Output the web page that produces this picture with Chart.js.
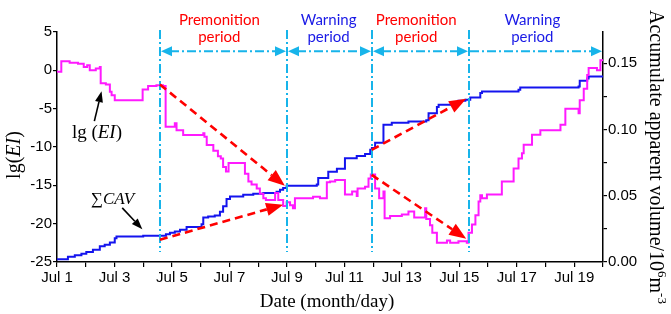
<!DOCTYPE html>
<html><head><meta charset="utf-8">
<script src="https://cdn.jsdelivr.net/npm/chart.js@4.4.0/dist/chart.umd.min.js"></script>
<style>html,body{margin:0;padding:0;background:#fff;}#wrap{width:671px;height:314px;}</style>
</head><body><div id="wrap"><canvas id="c" width="671" height="314"></canvas></div>
<script>
// ---- data (x = day of July) ----
const eiDays = [1.0,1.15,1.44,1.73,1.93,2.05,2.14,2.35,2.49,2.52,2.70,2.84,2.90,3.01,3.98,4.17,4.46,4.69,4.78,5.10,5.16,5.39,6.09,6.13,6.21,6.44,6.60,6.70,6.78,6.88,6.97,7.54,7.66,7.77,7.95,8.06,8.18,8.27,8.59,8.70,8.87,8.99,9.11,9.21,9.28,9.91,10.15,10.39,10.50,10.68,11.02,11.27,11.43,11.46,11.72,11.84,11.92,12.07,12.21,12.36,12.40,12.59,13.0,13.23,13.43,13.81,13.85,13.98,14.06,14.22,14.57,14.68,14.97,15.26,15.32,15.44,15.56,15.67,15.73,15.79,15.96,16.48,16.89,17.06,17.18,17.24,17.53,17.82,18.52,18.69,19.15,19.19,19.33,19.45,19.50,19.79,19.91,20.0];
const eiValues = [-0.2,1.2,1.0,0.85,0.45,0.65,0.0,0.25,0.45,-1.7,-1.85,-2.8,-3.25,-3.9,-2.5,-2.05,-1.95,-2.05,-7.35,-6.9,-7.8,-8.45,-8.2,-8.65,-9.75,-10.5,-11.2,-11.5,-12.6,-13.2,-12.1,-13.5,-14.5,-14.9,-15.4,-16.1,-16.7,-16.9,-16.0,-16.9,-17.7,-17.2,-17.6,-18.0,-16.7,-16.5,-16.7,-14.6,-14.5,-14.3,-16.2,-15.8,-16.4,-15.4,-15.2,-14.1,-13.6,-15.4,-16.7,-15.8,-19.3,-19.0,-18.8,-18.4,-19.2,-18.0,-19.4,-20.2,-21.2,-22.5,-22.2,-22.5,-22.3,-22.5,-21.2,-20.1,-18.9,-17.1,-16.3,-16.7,-16.2,-14.5,-12.8,-11.5,-10.8,-9.7,-8.4,-7.8,-7.1,-5.0,-5.6,-3.9,-2.4,-0.6,0.3,0.0,1.3,1.3];
const cavDays = [1.0,1.38,1.62,1.85,2.02,2.25,2.49,2.66,2.84,3.01,3.07,4.0,4.79,4.93,5.10,5.28,5.51,6.03,6.09,6.26,6.49,6.67,6.78,6.90,7.02,7.48,7.83,8.18,8.64,8.76,8.87,8.99,10.04,10.09,10.44,10.74,11.02,11.43,11.72,11.90,11.96,12.07,12.36,12.65,13.23,13.85,13.93,14.22,14.28,14.74,14.97,15.21,15.38,15.73,15.79,17.06,17.12,19.15,19.19,19.45,19.50,20.0];
const cavValues = [0.002,0.004,0.005,0.0063,0.0075,0.0093,0.0118,0.013,0.0148,0.018,0.0193,0.0198,0.021,0.022,0.023,0.0243,0.0264,0.0285,0.0336,0.0343,0.035,0.038,0.042,0.0475,0.0495,0.0507,0.0515,0.052,0.053,0.0545,0.0558,0.0575,0.0585,0.0633,0.068,0.0703,0.0782,0.080,0.0815,0.0846,0.086,0.09,0.1035,0.105,0.106,0.107,0.1123,0.117,0.1186,0.1193,0.1216,0.1223,0.124,0.1274,0.1286,0.130,0.1316,0.1324,0.1367,0.1385,0.1400,0.1404];
const xTickDays = [1,2,3,4,5,6,7,8,9,10,11,12,13,14,15,16,17,18,19,20];
const leftTicks = [-25,-22.5,-20,-17.5,-15,-12.5,-10,-7.5,-5,-2.5,0,2.5,5];
const rightTicks = [0,0.025,0.05,0.075,0.1,0.125,0.15];
const periodBounds = [4.58, 9.0, 11.97, 15.33, 20];
const periodNames = [["Premonition","period"],["Warning","period"],["Premonition","period"],["Warning","period"]];
const periodLabelDays = [6.65, 10.45, 13.5, 17.54];
const trendArrowsEI = [[4.58,-1.84,8.93,-15.07],[11.95,-13.64,15.24,-21.97]];
const trendArrowsCAV = [[4.58,0.0168,8.87,0.0432],[11.95,0.0846,15.24,0.1231]];

const MAGENTA = '#ff1aff', BLUE = '#1414ee', CYAN = '#17b4ea', RED = '#ff0000';
const serif = '"Liberation Serif", "Times New Roman", serif';
const sans = '"Liberation Sans", Arial, sans-serif';

function pts(xs, ys){ return xs.map((v,i)=>({x:v, y:ys[i]})); }

function arrow(ctx, x1, y1, x2, y2, o){
  const ang = Math.atan2(y2-y1, x2-x1);
  const bx = x2 - Math.cos(ang)*o.hl, by = y2 - Math.sin(ang)*o.hl;
  ctx.save();
  ctx.strokeStyle = o.color; ctx.fillStyle = o.color; ctx.lineWidth = o.lw;
  ctx.setLineDash(o.dash || []);
  ctx.beginPath(); ctx.moveTo(x1, y1); ctx.lineTo(bx, by); ctx.stroke();
  ctx.setLineDash([]);
  const px = -Math.sin(ang)*o.hw/2, py = Math.cos(ang)*o.hw/2;
  ctx.beginPath(); ctx.moveTo(x2, y2); ctx.lineTo(bx+px, by+py); ctx.lineTo(bx-px, by-py); ctx.closePath(); ctx.fill();
  ctx.restore();
}
function head(ctx, x, y, dir, o){
  ctx.save(); ctx.fillStyle = o.color;
  ctx.beginPath(); ctx.moveTo(x, y); ctx.lineTo(x - dir*o.hl, y - o.hw/2); ctx.lineTo(x - dir*o.hl, y + o.hw/2); ctx.closePath(); ctx.fill();
  ctx.restore();
}
function rich(ctx, parts, cx, cy){
  let w = 0;
  parts.forEach(p => { ctx.font = p.f; p.w = ctx.measureText(p.t).width; w += p.w; });
  let x = cx - w/2;
  ctx.textBaseline = 'alphabetic'; ctx.textAlign = 'left';
  parts.forEach(p => { ctx.font = p.f; ctx.fillText(p.t, x, cy + (p.dy||0)); x += p.w; });
}

const overlay = {
  id: 'overlay',
  afterDatasetsDraw(chart){
    const ctx = chart.ctx, x = chart.scales.x, y = chart.scales.y, y1 = chart.scales.y1;
    ctx.save();
    // vertical dash-dot period lines
    ctx.strokeStyle = CYAN; ctx.lineWidth = 2; ctx.setLineDash([9,3,2,3]);
    periodBounds.slice(0,4).forEach(d => {
      const px = Math.round(x.getPixelForValue(d));
      ctx.beginPath(); ctx.moveTo(px, y.getPixelForValue(5.25)); ctx.lineTo(px, y.getPixelForValue(-23.7)); ctx.stroke();
    });
    // horizontal period arrows
    const ay = y.getPixelForValue(2.5);
    const ho = {color: CYAN, hl: 11, hw: 10};
    for (let i = 0; i < 4; i++){
      const a = Math.round(x.getPixelForValue(periodBounds[i])), b = Math.round(x.getPixelForValue(periodBounds[i+1]));
      const leftHead = i < 3;
      ctx.setLineDash([9,3,2,3]); ctx.strokeStyle = CYAN; ctx.lineWidth = 2;
      ctx.beginPath(); ctx.moveTo(a + (leftHead ? 10 : 1), ay); ctx.lineTo(b - 10, ay); ctx.stroke();
      if (leftHead) head(ctx, a + 1, ay, -1, ho);
      head(ctx, b - 1, ay, 1, ho);
    }
    ctx.setLineDash([]);
    // period labels
    ctx.font = '15px Lato, "Open Sans", sans-serif'; ctx.textAlign = 'center'; ctx.textBaseline = 'middle';
    periodNames.forEach((n, i) => {
      ctx.fillStyle = (i % 2 === 0) ? RED : '#1a1ae6';
      const px = x.getPixelForValue(periodLabelDays[i]);
      ctx.fillText(n[0], px, y.getPixelForValue(6.55));
      ctx.fillText(n[1], px, y.getPixelForValue(4.35));
    });
    // red dashed trend arrows
    const ro = {color: RED, lw: 2.6, dash: [8,5], hl: 17, hw: 13};
    trendArrowsEI.forEach(a => arrow(ctx, x.getPixelForValue(a[0]), y.getPixelForValue(a[1]), x.getPixelForValue(a[2]), y.getPixelForValue(a[3]), ro));
    trendArrowsCAV.forEach(a => arrow(ctx, x.getPixelForValue(a[0]), y1.getPixelForValue(a[1]), x.getPixelForValue(a[2]), y1.getPixelForValue(a[3]), ro));
    // black pointer arrows + curve labels
    const bo = {color: '#000', lw: 1.6, hl: 11, hw: 8};
    arrow(ctx, x.getPixelForValue(2.30), y.getPixelForValue(-6.62), x.getPixelForValue(2.55), y.getPixelForValue(-2.72), bo);
    arrow(ctx, x.getPixelForValue(3.27), y.getPixelForValue(-17.94), x.getPixelForValue(3.97), y.getPixelForValue(-20.73), bo);
    ctx.fillStyle = '#000';
    rich(ctx, [{t:'lg (', f:'19px '+serif},{t:'EI', f:'italic 19px '+serif},{t:')', f:'19px '+serif}], x.getPixelForValue(2.39), y.getPixelForValue(-8.0)+6);
    rich(ctx, [{t:'\u2211', f:'17px '+serif},{t:'CAV', f:'italic 17px '+serif}], x.getPixelForValue(2.93), y.getPixelForValue(-16.7)+6);
    // axis titles
    ctx.save(); ctx.translate(13, 155); ctx.rotate(-Math.PI/2);
    rich(ctx, [{t:'lg(', f:'20px '+serif},{t:'EI', f:'italic 20px '+serif},{t:')', f:'20px '+serif}], 0, 7);
    ctx.restore();
    ctx.save(); ctx.translate(657, 157); ctx.rotate(Math.PI/2);
    rich(ctx, [{t:'Accumulate apparent volume/10', f:'20px '+serif},{t:'6', f:'13px '+serif, dy:-8},{t:'m', f:'20px '+serif},{t:'-3', f:'13px '+serif, dy:-8}], 0, 7);
    ctx.restore();
    rich(ctx, [{t:'Date (month/day)', f:'19px '+serif}], 327, 307);
    ctx.restore();
  }
};

const tickFont = {family: sans, size: 15};
new Chart(document.getElementById('c'), {
  type: 'line',
  data: { datasets: [
    {label:'lg(EI)', data: pts(eiDays, eiValues), yAxisID:'y', stepped:true, borderColor: MAGENTA, borderWidth: 2, pointRadius: 0, fill: false},
    {label:'CAV', data: pts(cavDays, cavValues), yAxisID:'y1', stepped:true, borderColor: BLUE, borderWidth: 2, pointRadius: 0, fill: false}
  ]},
  options: {
    responsive: false, animation: false, devicePixelRatio: 1,
    layout: {padding: {top: 32, left: 0, right: 0, bottom: 0}},
    plugins: {legend: {display: false}, tooltip: {enabled: false}},
    scales: {
      x: {type: 'linear', min: 1, max: 20,
        afterBuildTicks: s => { s.ticks = xTickDays.map(v => ({value: v})); },
        afterFit: s => { s.height = 52; },
        ticks: {autoSkip: false, maxRotation: 0, color: '#000', font: tickFont, padding: 2,
          callback: v => (v % 2 === 1) ? 'Jul ' + v : ''},
        grid: {display: true, drawOnChartArea: false, drawTicks: true, tickLength: 5, color: '#000', lineWidth: 1.2},
        border: {display: true, color: '#000', width: 1.5}},
      y: {position: 'left', min: -25, max: 5,
        afterBuildTicks: s => { s.ticks = leftTicks.map(v => ({value: v})); },
        afterFit: s => { s.width = 57; },
        ticks: {color: '#000', font: tickFont, padding: 1,
          callback: v => (v % 5 === 0) ? String(v) : ''},
        grid: {display: true, drawOnChartArea: false, drawTicks: true, tickLength: 4, color: '#000', lineWidth: 1.2},
        border: {display: true, color: '#000', width: 1.5}},
      y1: {position: 'right', min: 0, max: 0.1735,
        afterBuildTicks: s => { s.ticks = rightTicks.map(v => ({value: v})); },
        afterFit: s => { s.width = 68; },
        ticks: {color: '#000', font: tickFont, padding: 1,
          callback: v => (Math.abs(v/0.05 - Math.round(v/0.05)) < 1e-6) ? v.toFixed(2) : ''},
        grid: {display: true, drawOnChartArea: false, drawTicks: true, tickLength: 4, color: '#000', lineWidth: 1.2},
        border: {display: true, color: '#000', width: 1.5}}
    }
  },
  plugins: [overlay]
});
</script></body></html>
